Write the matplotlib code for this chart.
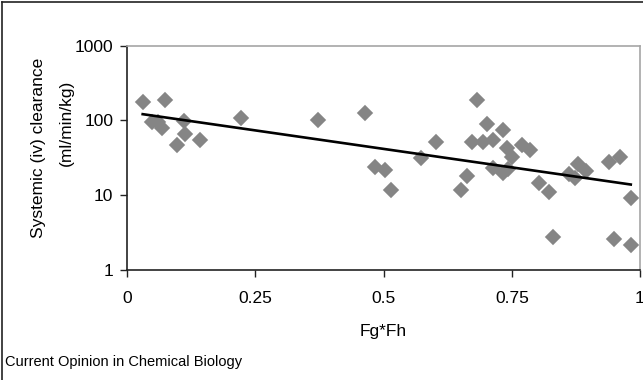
import numpy as np
import matplotlib
matplotlib.use("Agg")
import matplotlib.pyplot as plt
from matplotlib.ticker import FixedLocator, FixedFormatter, NullLocator

plt.rcParams['font.family'] = ['Liberation Sans', 'DejaVu Sans']

# Data (Fg*Fh vs systemic clearance)
fgfh = [0.030, 0.049, 0.0605, 0.067, 0.0736, 0.0964, 0.111, 0.1126, 0.142, 0.222,
        0.372, 0.4638, 0.4833, 0.503, 0.514, 0.5725, 0.603, 0.651, 0.662, 0.672,
        0.682, 0.6934, 0.701, 0.713, 0.713, 0.7325, 0.7325, 0.740, 0.7435, 0.751,
        0.7695, 0.786, 0.803, 0.8225, 0.830, 0.862, 0.8735, 0.880, 0.895, 0.9405,
        0.950, 0.961, 0.982, 0.982]
clearance = [175, 95, 96, 80, 187, 47, 98, 65, 55, 107,
             101, 127, 23.5, 22, 11.8, 31.4, 51.6, 11.9, 18.3, 51.6,
             187, 51.6, 89, 55, 23, 74.5, 19.8, 43, 22.4, 32,
             46.7, 40.3, 14.6, 11.1, 2.75, 19.2, 16.8, 26.5, 21, 28,
             2.57, 32, 9.3, 2.15]

x_ticks = [0, 0.25, 0.5, 0.75, 1]
x_tick_labels = ['0', '0.25', '0.5', '0.75', '1']
y_ticks = [1, 10, 100, 1000]
y_tick_labels = ['1', '10', '100', '1000']

W, H = 643, 380
fig = plt.figure(figsize=(W / 100, H / 100), dpi=100)
fig.patch.set_facecolor('white')

ax = fig.add_axes([127.3 / W, 1 - 270 / H, (640 - 127.3) / W, (270 - 45.7) / H])
ax.set_yscale('log')
ax.set_xlim(0, 1)
ax.set_ylim(1, 1000)

ax.plot(fgfh, clearance, linestyle='none', marker='D', markersize=7.0,
        markerfacecolor='#858585', markeredgecolor='#858585', markeredgewidth=1.2,
        zorder=3, clip_on=False)

# exponential trendline (least squares on log scale)
xs = np.asarray(fgfh)
ys = np.log10(np.asarray(clearance))
b, a = np.polyfit(xs, ys, 1)
xt = np.linspace(xs.min(), xs.max(), 50)
ax.plot(xt, 10 ** (a + b * xt), color='black', linewidth=1.9, zorder=4)

ax.xaxis.set_major_locator(FixedLocator(x_ticks))
ax.xaxis.set_major_formatter(FixedFormatter(x_tick_labels))
ax.yaxis.set_major_locator(FixedLocator(y_ticks))
ax.yaxis.set_major_formatter(FixedFormatter(y_tick_labels))
ax.yaxis.set_minor_locator(NullLocator())
ax.xaxis.set_minor_locator(NullLocator())

for s in ['left', 'bottom']:
    ax.spines[s].set_color('#222222')
    ax.spines[s].set_linewidth(1.2)
for s in ['top', 'right']:
    ax.spines[s].set_color('#a6a6a6')
    ax.spines[s].set_linewidth(1.2)

ax.tick_params(axis='both', direction='out', length=5, width=1.0, color='#222222',
               labelsize=12.5, labelcolor='black')
ax.tick_params(axis='x', pad=10)
ax.tick_params(axis='y', pad=5)

ax.set_xlabel('Fg*Fh', fontsize=12.5, labelpad=13)

# y-axis title: two lines, placed as in the reference
fig.text(39 / W, 1 - 148 / H, 'Systemic (iv) clearance', fontsize=12.5,
         rotation=90, ha='center', va='center')
fig.text(66 / W, 1 - 123 / H, '(ml/min/kg)', fontsize=12.5,
         rotation=90, ha='center', va='center')

fig.text(5 / W, 1 - 362 / H, 'Current Opinion in Chemical Biology', fontsize=10.5,
         ha='left', va='center')

# outer frame (left and top only visible)
fx = 1.5 / W
fy = 1 - 1.5 / H
fig.add_artist(plt.Line2D([fx, fx], [0, fy], color='#222222', linewidth=1.2,
                          transform=fig.transFigure))
fig.add_artist(plt.Line2D([fx, 1], [fy, fy], color='#222222', linewidth=1.2,
                          transform=fig.transFigure))

fig.savefig('out.png', dpi=100)
